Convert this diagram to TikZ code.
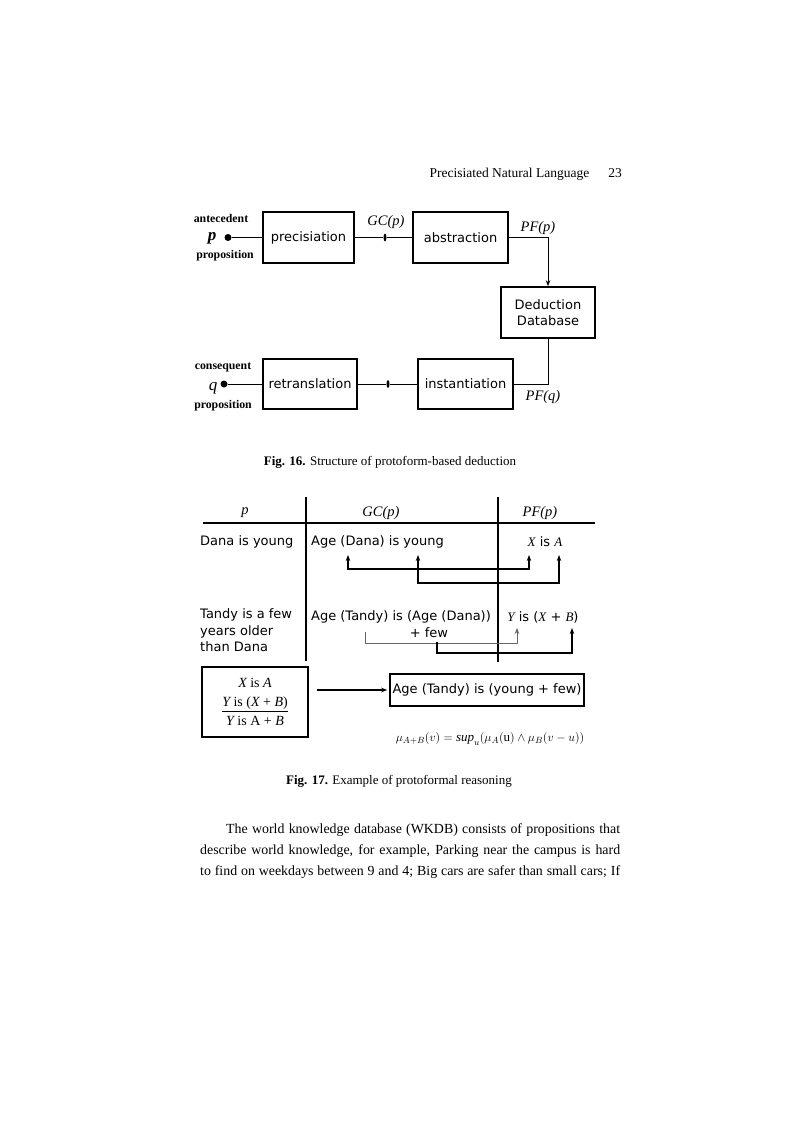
\documentclass[tikz,border=0pt]{standalone}
\usepackage{fontspec}
\setmainfont{Liberation Serif}
\setsansfont{DejaVu Sans}
\usetikzlibrary{arrows.meta,shapes.geometric}
\newcommand{\vit}[1]{{\rmfamily\itshape #1}}
\begin{document}
\begin{tikzpicture}[x=1pt,y=-1pt,
  box/.style={draw, line width=1.6pt, inner sep=0pt, align=center,
    font=\sffamily\fontsize{13}{15.5}\selectfont},
  conn/.style={line width=0.9pt},
  dot/.style={circle, fill, inner sep=0pt, minimum size=7pt},
  tick/.style={ellipse, fill, inner sep=0pt, minimum width=3pt, minimum height=8pt},
  lbl/.style={inner sep=0pt, font=\rmfamily\bfseries\fontsize{11.8}{13}\selectfont},
  ital/.style={inner sep=0pt, font=\rmfamily\itshape\fontsize{14.5}{16}\selectfont},
  tt/.style={inner sep=0pt, font=\sffamily\fontsize{13}{16.5}\selectfont},
  capt/.style={inner sep=0pt, font=\rmfamily\fontsize{13}{15}\selectfont},
  body/.style={inner sep=0pt, anchor=base west, font=\rmfamily\fontsize{13.9}{21}\selectfont},
  rulel/.style={line width=1.7pt},
  arr/.style={line width=1.3pt},
  tip/.style={-{Stealth[length=6pt,width=4.5pt]}},
  tips/.style={{Stealth[length=6pt,width=4.5pt]}-{Stealth[length=6pt,width=4.5pt]}}
]
\useasboundingbox[fill=white] (0,0) rectangle (800,1132);

% header
\node[inner sep=0pt, anchor=base east, font=\rmfamily\fontsize{13.5}{16}\selectfont] (head) at (622,177)
  {Precisiated Natural Language\hspace{19pt}23};

% ---------- Fig. 16 ----------
\node[box, minimum width=91pt, minimum height=51pt] (prec) at (308.5,237.5) {precisiation};
\node[box, minimum width=95pt, minimum height=51pt] (abs) at (460.5,237.5) {abstraction};
\node[box, minimum width=94pt, minimum height=51pt] (ded) at (548,312.5) {Deduction\\Database};
\node[box, minimum width=95pt, minimum height=50pt] (inst) at (465.5,384) {instantiation};
\node[box, minimum width=94pt, minimum height=50pt] (retr) at (310,384) {retranslation};

\node[lbl] (ante) at (221,218) {antecedent};
\node[lbl] (prop1) at (225,256) {proposition};
\node[inner sep=0pt, font=\rmfamily\bfseries\itshape\fontsize{17}{17}\selectfont] (plab) at (212,238) {p};
\node[dot] (pdot) at (228,237.5) {};
\draw[conn] (pdot) -- (pdot -| prec.west);

\node[tick] (gct) at (385,237.5) {};
\draw[conn] (prec.east) -- (gct) -- (abs.west);
\node[ital] (gclab) at (386,222) {GC(p)};

\draw[conn, tip] (abs.east) -| (ded.north);
\node[ital] (pfp) at (538,228) {PF(p)};

\draw[conn] (ded.south) |- (inst.east);
\node[ital] (pfq) at (543,397) {PF(q)};

\node[tick] (qt) at (388,384) {};
\draw[conn] (retr.east) -- (qt) -- (inst.west);
\node[dot] (qdot) at (224,384) {};
\draw[conn] (qdot) -- (qdot -| retr.west);
\node[inner sep=0pt, font=\rmfamily\itshape\fontsize{17}{17}\selectfont] (qlab) at (213,388) {q};
\node[lbl] (cons) at (223,367) {consequent};
\node[lbl] (prop2) at (223,406) {proposition};

\node[capt] (cap16) at (390,462) {\textbf{Fig. 16.} Structure of protoform-based deduction};

% ---------- Fig. 17 ----------
\coordinate (v1t) at (306,497);
\coordinate (v1b) at (306,661);
\coordinate (v2t) at (498,497);
\coordinate (v2b) at (498,662);
\coordinate (hl) at (203,523);
\coordinate (hr) at (595,523);
\draw[rulel] (v1t) -- (v1b);
\draw[rulel] (v2t) -- (v2b);
\draw[line width=1.4pt] (hl) -- (hr);

\node[ital] (hp) at (245,513) {p};
\node[ital] (hgc) at (381,513) {GC(p)};
\node[ital] (hpf) at (540,513) {PF(p)};

\node[tt, anchor=west] (r1p) at (200,542) {Dana is young};
\node[tt, anchor=west] (r1gc) at (311,542) {Age (Dana) is young};
\node[tt] (r1pf) at (545,542) {\vit{X} is \vit{A}};

\coordinate (a1) at (348,555);
\coordinate (a2) at (529,555);
\coordinate (a3) at (418,555);
\coordinate (a4) at (559,555);
\draw[arr, tips] (a1) -- ++(0,14) -| (a2);
\draw[arr, tips] (a3) -- ++(0,28) -| (a4);

\node[tt, anchor=north west, align=left] (r2p) at (200,608.5) {Tandy is a few\\years older\\than Dana};
\node[tt] (r2gc) at (401,617) {Age (Tandy) is (Age (Dana))};
\node[tt] (r2few) at (429,633) {+ few};
\node[tt] (r2pf) at (543,617) {\vit{Y} is (\vit{X} + \vit{B})};

\coordinate (b1) at (365,632);
\coordinate (b2) at (517,628);
\coordinate (b3) at (437,642);
\coordinate (b4) at (572,628);
\draw[line width=0.8pt, black!60, tip] (b1) -- ++(0,11) -| (b2);
\draw[arr, tip] (b3) -- ++(0,11) -| (b4);

\node[draw, line width=1.6pt, minimum width=106pt, minimum height=70pt, inner sep=0pt, align=center,
  font=\rmfamily\fontsize{14}{19}\selectfont] (prem) at (255,702)
  {\vit{X} is \vit{A}\\\underline{\vit{Y} is (\vit{X} + \vit{B})}\\\vit{Y} is A + \vit{B}};
\node[draw, line width=1.6pt, minimum width=194pt, minimum height=32pt, inner sep=0pt,
  font=\sffamily\fontsize{13}{15}\selectfont] (concl) at (487,690) {Age (Tandy) is (young + few)};
\draw[line width=1.1pt, tip, shorten <=8pt, shorten >=2pt] (prem.east |- concl.west) -- (concl.west);

\node[inner sep=0pt, font=\fontsize{13}{15}\selectfont] (mu) at (490,739)
  {$\mu_{A+B}(v) = \mathit{sup}_u\bigl(\mu_A(\mathrm{u}) \wedge \mu_B(v-u)\bigr)$};

\node[capt] (cap17) at (399,781) {\textbf{Fig. 17.} Example of protoformal reasoning};

% ---------- body text ----------
\node[body] (l1) at (226,833) {\makebox[394pt][s]{The world knowledge database (WKDB) consists of propositions that}};
\node[body] (l2) at (200,854) {\makebox[420pt][s]{describe world knowledge, for example, Parking near the campus is hard}};
\node[body] (l3) at (200,875) {\makebox[420pt][s]{to find on weekdays between 9 and 4; Big cars are safer than small cars; If}};
\end{tikzpicture}
\end{document}
